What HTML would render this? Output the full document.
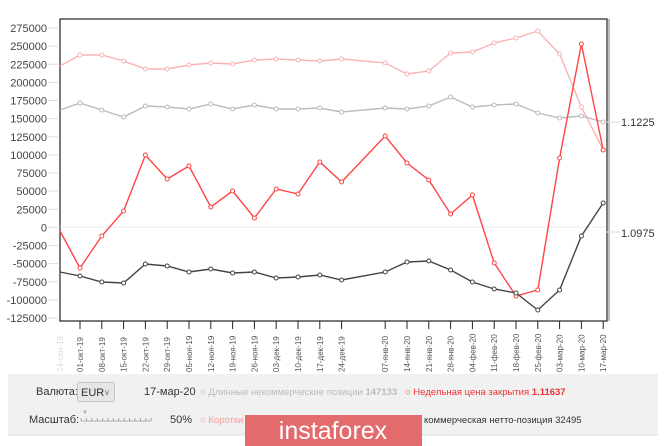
<!DOCTYPE html>
<html><head><meta charset="utf-8"><style>
body{margin:0;width:665px;height:446px;overflow:hidden;background:#fff;font-family:"Liberation Sans",sans-serif}
</style></head><body>
<svg width="665" height="446" xmlns="http://www.w3.org/2000/svg" style="position:absolute;left:0;top:0" font-family="Liberation Sans, sans-serif">
<rect x="60" y="19" width="547" height="302" fill="#fff" stroke="#222" stroke-width="1.2"/>
<line x1="609" y1="19" x2="609" y2="321" stroke="#aaa" stroke-width="1.5"/>
<line x1="60" y1="227" x2="606" y2="227" stroke="#e8e8e8"/>
<line x1="606" y1="232" x2="620" y2="232" stroke="#ddd"/>
<line x1="606" y1="122" x2="620" y2="122" stroke="#ddd"/>
<g font-size="11" fill="#333">
<text x="621" y="126">1.1225</text>
<text x="621" y="237">1.0975</text>
</g>
<g font-size="11" fill="#444" text-anchor="end" id="yl"></g>
<g stroke="#ddd" id="yt"></g>
<g id="xt" stroke="#222"></g>
<g id="xl" font-size="8" fill="#555"></g>
<g id="series" fill="none" stroke-width="1.4"></g>
<rect x="8" y="374" width="650" height="61" fill="#f1f1f1"/>
<line x1="8" y1="435" x2="658" y2="435" stroke="#ddd"/>
<g font-size="11" fill="#333">
<text x="36" y="395">Валюта:</text>
<rect x="77.5" y="382.5" width="37" height="19" fill="#e6e6e6" stroke="#c8c8c8" rx="2"/>
<text x="81" y="396" font-size="11">EUR</text><text x="104" y="395" font-size="8" fill="#777">∨</text>
<text x="144" y="395">17-мар-20</text>
<text x="200" y="395" font-size="9.5" fill="#bbb">○ Длинные некоммерческие позиции  <tspan font-weight="bold">147133</tspan></text>
<text x="405" y="395" font-size="9.5" fill="#e33">○ Недельная цена закрытия  <tspan font-weight="bold">1.11637</tspan></text>
<text x="29" y="423">Масштаб:</text>
<text x="170" y="423">50%</text>
<text x="200" y="423" font-size="9.5" fill="#f99">○ Коротки</text>
<text x="424" y="423" font-size="9.5" fill="#333">коммерческая нетто-позиция  32495</text>
</g>
<g stroke="#999" stroke-width="0.8" id="sl"><line x1="81" y1="421" x2="151" y2="421"/></g>
<text x="82" y="414" font-size="6" fill="#aaa">▼</text>
<rect x="245" y="415" width="177" height="31" fill="#e36a6d"/>
<text x="333" y="439" font-size="25" fill="#fff" text-anchor="middle">instaforex</text>
</svg>
<script>
const NS="http://www.w3.org/2000/svg";
function el(p,t,a,txt){const e=document.createElementNS(NS,t);for(const k in a)e.setAttribute(k,a[k]);if(txt)e.textContent=txt;document.getElementById(p).appendChild(e);return e;}
for(let v=275000;v>=-125000;v-=25000){const y=28+(275000-v)*0.000725;el("yl","text",{x:47,y:y+4},String(v));el("yt","line",{x1:48,y1:y,x2:58,y2:y});}
for(let i=0;i<=13;i++){el("sl","line",{x1:81+i*5.4,y1:418,x2:81+i*5.4,y2:421});}
const ks=[-1,0,1,2,3,4,5,6,7,8,9,10,11,12,14,15,16,17,18,19,20,21,22,23,24];
const X=k=>k<0?60:80+21.8*k;
const labs=["","01-окт-19","08-окт-19","15-окт-19","22-окт-19","29-окт-19","05-ноя-19","12-ноя-19","19-ноя-19","26-ноя-19","03-дек-19","10-дек-19","17-дек-19","24-дек-19","07-янв-20","14-янв-20","21-янв-20","28-янв-20","04-фев-20","11-фев-20","18-фев-20","25-фев-20","03-мар-20","10-мар-20","17-мар-20"];
ks.forEach((k,i)=>{if(i==0)return;const x=X(k);el("xt","line",{x1:x,y1:321,x2:x,y2:329});el("xl","text",{x:0,y:0,transform:`translate(${x+3},372) rotate(-90)`},labs[i]);});
el("xl","text",{x:0,y:0,transform:`translate(63,372) rotate(-90)`,fill:"#ddd"},"24-сен-19");
const S=[
["#f8b4b4",[66,55,55,61,69,69,65,63,64,60,59,60,61,59,63,74,71,53,52,43,38,31,54,107,150]],
["#bbb",[110,103,110,117,106,107,109,104,109,105,109,109,108,112,108,109,106,97,107,105,104,113,118,116,122]],
["#f44",[231,268,236,211,155,179,166,207,191,218,189,194,162,182,136,163,180,214,195,263,296,290,158,44,150]],
["#444",[272,276,282,283,264,266,272,269,273,272,278,277,275,280,272,262,261,270,282,289,293,310,290,236,203]]];
S.forEach(([c,ys])=>{el("series","polyline",{points:ys.map((y,i)=>X(ks[i])+","+y).join(" "),stroke:c});ys.forEach((y,i)=>{if(i>0)el("series","circle",{cx:X(ks[i]),cy:y,r:2,stroke:c,fill:"#fff","stroke-width":1});});});
</script>
</body></html>
